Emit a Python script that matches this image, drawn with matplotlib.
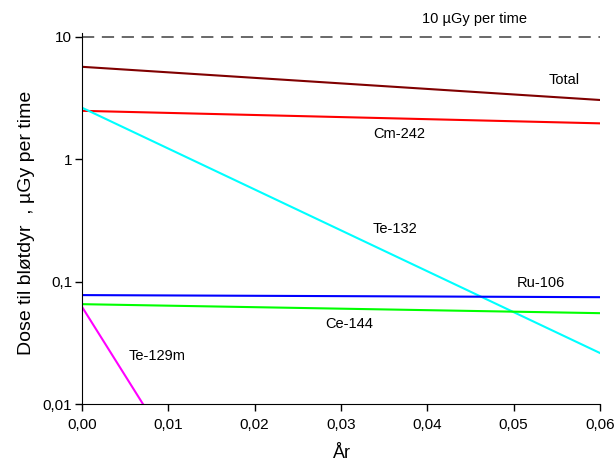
import matplotlib.pyplot as plt
from matplotlib.ticker import FixedLocator, FixedFormatter, NullLocator

plt.rcParams['font.family'] = ['Liberation Sans', 'DejaVu Sans']

# tid i år (endepunkter)
aar = [0.0, 0.06]

# dose til bløtdyr, µGy per time
total = [5.67, 3.04]
cm242 = [2.48, 1.96]
te132 = [2.63, 0.0262]
ru106 = [0.0778, 0.0748]
ce144 = [0.0656, 0.0554]
te129m_x = [0.0, 0.01]
te129m = [0.0624, 0.0047]
grense = [10, 10]

serier = [
    ("Total", aar, total, "#800000"),
    ("Cm-242", aar, cm242, "#ff0000"),
    ("Te-132", aar, te132, "#00ffff"),
    ("Ru-106", aar, ru106, "#0000ff"),
    ("Ce-144", aar, ce144, "#00ff00"),
    ("Te-129m", te129m_x, te129m, "#ff00ff"),
]

# etikettposisjoner
etiketter = {
    "Total": (0.0559, 4.45),
    "Cm-242": (0.0368, 1.61),
    "Te-132": (0.0363, 0.267),
    "Ru-106": (0.0532, 0.0973),
    "Ce-144": (0.0310, 0.0451),
    "Te-129m": (0.0087, 0.0248),
}

fig = plt.figure(figsize=(6.15, 4.61), dpi=100)
ax = fig.add_axes([82 / 615, 1 - 404.3 / 461, (600 - 82) / 615, (404.3 - 33) / 461])

ax.plot(aar, grense, color="#404040", linestyle=(0, (8, 5)), linewidth=1.1)
ax.text(0.0455, 13.9, "10 \u00b5Gy per time", ha="center", va="center", fontsize=10.5)

for navn, x, y, farge in serier:
    ax.plot(x, y, color=farge, linewidth=1.5)
    tx, ty = etiketter[navn]
    ax.text(tx, ty, navn, ha="center", va="center", fontsize=10.5)

ax.set_yscale("log")
ax.set_xlim(0, 0.06)
ax.set_ylim(0.01, 10.7)

ax.xaxis.set_major_locator(FixedLocator([0, 0.01, 0.02, 0.03, 0.04, 0.05, 0.06]))
ax.xaxis.set_major_formatter(FixedFormatter(["0,00", "0,01", "0,02", "0,03", "0,04", "0,05", "0,06"]))
ax.yaxis.set_major_locator(FixedLocator([0.01, 0.1, 1, 10]))
ax.yaxis.set_major_formatter(FixedFormatter(["0,01", "0,1", "1", "10"]))
ax.yaxis.set_minor_locator(NullLocator())
ax.xaxis.set_minor_locator(NullLocator())

ax.spines["top"].set_visible(False)
ax.spines["right"].set_visible(False)
ax.tick_params(direction="out", length=5, width=1, labelsize=11)
ax.tick_params(axis="y", pad=2)
ax.tick_params(axis="x", pad=5)

ax.set_xlabel("År", fontsize=13)
ax.set_ylabel("Dose til bløtdyr  , \u00b5Gy per time", fontsize=14)
ax.xaxis.set_label_coords(0.502, -0.11)
ax.yaxis.set_label_coords(-0.09, 0.488)

fig.savefig("out.png", dpi=100)
